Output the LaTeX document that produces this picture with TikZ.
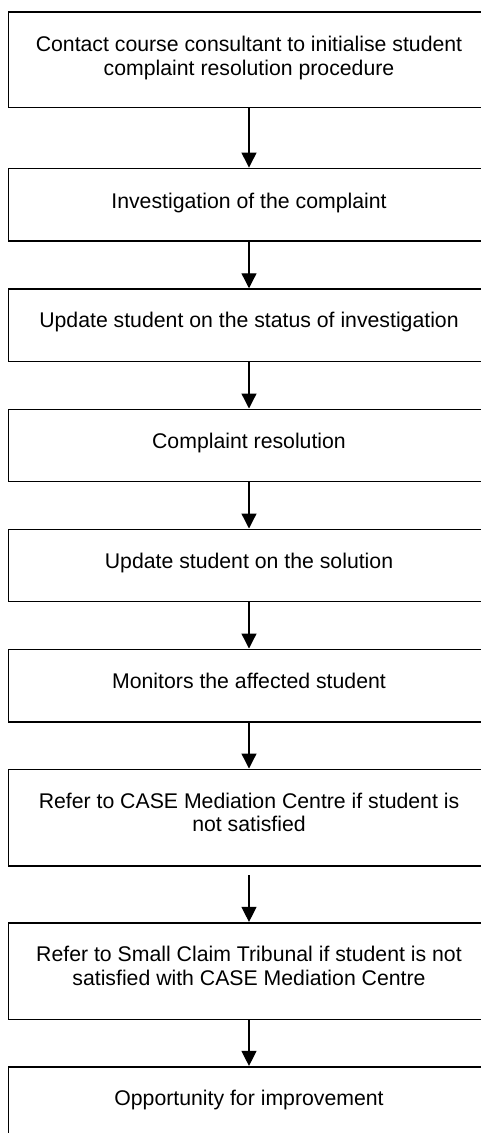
\documentclass[tikz,border=0pt]{standalone}
\usepackage{fontspec}
\setmainfont{Liberation Sans}
\usetikzlibrary{arrows.meta}
\begin{document}
\begin{tikzpicture}[x=1pt,y=-1pt,
  box/.style={draw=black, line width=1.6pt, rectangle, minimum width=481pt, inner sep=0pt},
  txt/.style={anchor=base, inner sep=0pt, font=\fontsize{21.25}{23.4}\selectfont},
  arr/.style={draw=black, line width=1.3pt, -{Triangle[width=15pt,length=15pt]}}]
\useasboundingbox (0,0) rectangle (481,1133);
\clip (0,0) rectangle (481,1133);
\fill[white] (0,0) rectangle (481,1133);
% boxes
\node[box, minimum height=95.3pt] (b1) at (249,59.7) {};
\node[box, minimum height=72.7pt] (b2) at (249,204.7) {};
\node[box, minimum height=72.3pt] (b3) at (249,325.2) {};
\node[box, minimum height=72pt] (b4) at (249,445.3) {};
\node[box, minimum height=72pt] (b5) at (249,565.3) {};
\node[box, minimum height=72.4pt] (b6) at (249,685.5) {};
\node[box, minimum height=96.4pt] (b7) at (249,817.5) {};
\node[box, minimum height=96.6pt] (b8) at (249,971) {};
\node[box, minimum height=96pt] (b9) at (249,1114.7) {};
% texts
\node[txt] (t1) at (249,51.7) {\begin{tabular}[t]{@{}c@{}}Contact course consultant to initialise student\\complaint resolution procedure\end{tabular}};
\node[txt] (t2) at (249,208.3) {Investigation of the complaint};
\node[txt] (t3) at (249,327.7) {Update student on the status of investigation};
\node[txt] (t4) at (249,448.3) {Complaint resolution};
\node[txt] (t5) at (249,568.3) {Update student on the solution};
\node[txt] (t6) at (249,688.3) {Monitors the affected student};
\node[txt] (t7) at (249,808.3) {\begin{tabular}[t]{@{}c@{}}Refer to CASE Mediation Centre if student is\\not satisfied\end{tabular}};
\node[txt] (t8) at (249,961.7) {\begin{tabular}[t]{@{}c@{}}Refer to Small Claim Tribunal if student is not\\satisfied with CASE Mediation Centre\end{tabular}};
\node[txt] (t9) at (249,1105.7) {Opportunity for improvement};
% arrows
\coordinate (s8) at (249,875);
\draw[arr] (b1.south) -- (b2.north);
\draw[arr] (b2.south) -- (b3.north);
\draw[arr] (b3.south) -- (b4.north);
\draw[arr] (b4.south) -- (b5.north);
\draw[arr] (b5.south) -- (b6.north);
\draw[arr] (b6.south) -- (b7.north);
\draw[arr] (s8) -- (b8.north);
\draw[arr] (b8.south) -- (b9.north);
\end{tikzpicture}
\end{document}
